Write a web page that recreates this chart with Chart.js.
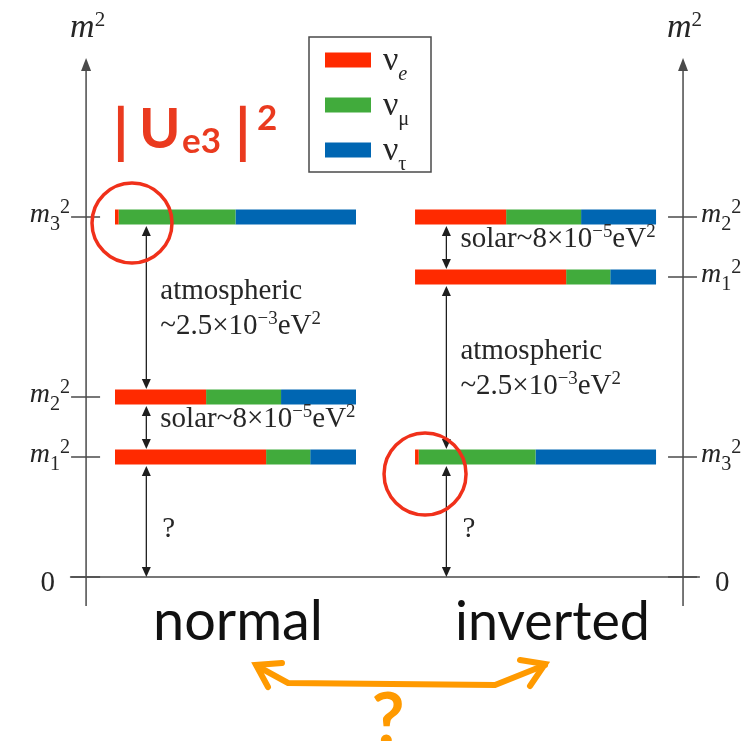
<!doctype html>
<html>
  <head>
    <meta charset="utf-8" />
    <title>Neutrino mass ordering</title>
    <script src="https://cdn.jsdelivr.net/npm/chart.js"></script>
    <style>
      html, body { margin: 0; padding: 0; background: #fff; }
      #wrap { width: 753px; height: 741px; }
    </style>
  </head>
  <body>
    <div id="wrap"><canvas id="chart" width="753" height="741"></canvas></div>
    <script>
      // flavour content |U|^2 of each mass state (m1, m2, m3)
      const flavours = ["ν", "ν", "ν"];
      const flavourSubs = ["e", "μ", "τ"];
      const flavourColors = ["#ff2a00", "#41ab3c", "#0066b2"];
      const shareE = [0.627, 0.378, 0.015];
      const shareMu = [0.183, 0.311, 0.485];
      const shareTau = [0.19, 0.311, 0.5];

      // schematic m^2 of m1, m2, m3 (diagram is not to scale)
      const orderings = ["normal", "inverted"];
      const normalLevels = [2, 3, 6];
      const invertedLevels = [5, 6, 2];
      const orderingStart = [0, 1.245];
      const massNames = ["1", "2", "3"];

      const atmText = ["atmospheric", "~2.5×10", "−3", "eV", "2"];
      const solarText = ["solar~8×10", "−5", "eV", "2"];

      const SERIF = '"Liberation Serif", "DejaVu Serif", serif';
      const SANS = 'Lato, "Open Sans", sans-serif';
      const INK = "#262626";

      const shares = [shareE, shareMu, shareTau];
      const levelSets = [normalLevels, invertedLevels];

      const datasets = [];
      orderings.forEach((ord, o) => {
        levelSets[o].forEach((lvl, i) => {
          let x0 = orderingStart[o];
          shares.forEach((s, f) => {
            datasets.push({
              label: flavours[f] + flavourSubs[f],
              data: [{ x: x0, y: lvl }, { x: x0 + s[i], y: lvl }],
              borderColor: flavourColors[f],
              borderWidth: 15,
              borderCapStyle: "butt",
              pointRadius: 0,
            });
            x0 += s[i];
          });
        });
      });

      // parts: [text, kind] kind = n | i | sup | sub | isub
      function drawRich(ctx, x, y, parts, size, family, align, color, small = 0.65) {
        const fontFor = (k) => {
          const s = k === "n" || k === "i" ? size : size * small;
          const it = k === "i" || k === "isub" ? "italic " : "";
          return it + s + "px " + family;
        };
        let total = 0;
        parts.forEach(([t, k]) => {
          ctx.font = fontFor(k);
          total += ctx.measureText(t).width;
        });
        let cx = align === "right" ? x - total : x;
        ctx.textAlign = "left";
        ctx.textBaseline = "alphabetic";
        ctx.fillStyle = color;
        parts.forEach(([t, k]) => {
          ctx.font = fontFor(k);
          let dy = 0;
          if (k === "sup") dy = -size * 0.33;
          if (k === "sub" || k === "isub") dy = size * 0.3;
          ctx.fillText(t, cx, y + dy);
          cx += ctx.measureText(t).width;
        });
      }

      function seg(ctx, x1, y1, x2, y2) {
        ctx.beginPath();
        ctx.moveTo(x1, y1);
        ctx.lineTo(x2, y2);
        ctx.stroke();
      }

      function head(ctx, x, tip, dir, hw, len) {
        ctx.beginPath();
        ctx.moveTo(x, tip);
        ctx.lineTo(x - hw, tip + dir * len);
        ctx.lineTo(x + hw, tip + dir * len);
        ctx.closePath();
        ctx.fill();
      }

      function fitText(ctx, text, family, weight, x0, x1, baseline, color) {
        ctx.font = weight + " 100px " + family;
        const w = ctx.measureText(text).width;
        const size = (100 * (x1 - x0)) / w;
        ctx.font = weight + " " + size + "px " + family;
        ctx.fillStyle = color;
        ctx.textAlign = "left";
        ctx.textBaseline = "alphabetic";
        ctx.fillText(text, x0, baseline);
      }

      const diagram = {
        id: "diagram",
        beforeDraw(chart) {
          const { ctx } = chart;
          ctx.save();
          ctx.fillStyle = "#ffffff";
          ctx.fillRect(0, 0, chart.width, chart.height);
          ctx.restore();
        },
        afterDatasetsDraw(chart) {
          const { ctx, scales: { x, y } } = chart;
          const X = (v) => x.getPixelForValue(v);
          const Y = (v) => y.getPixelForValue(v);
          ctx.save();

          // m^2 axes and zero line
          const axisPos = [-0.12, 2.357];
          const zeroY = Y(0);
          ctx.strokeStyle = "#4a4a4a";
          ctx.fillStyle = "#4a4a4a";
          ctx.lineWidth = 1.5;
          seg(ctx, X(-0.187), zeroY, X(2.427), zeroY);
          axisPos.forEach((a, side) => {
            const px = X(a);
            ctx.strokeStyle = "#4a4a4a";
            ctx.fillStyle = "#4a4a4a";
            ctx.lineWidth = 1.5;
            seg(ctx, px, zeroY + 29, px, Y(8.6) + 8);
            head(ctx, px, Y(8.65), 1, 5, 13);
            const lv = levelSets[side];
            lv.forEach((l) => seg(ctx, px - 15, Y(l), px + 14, Y(l)));
            seg(ctx, px - 15, zeroY, px + 14, zeroY);
            lv.forEach((l, i) => {
              const parts = [["m", "i"], [massNames[i], "sub"], ["2", "sup"]];
              if (side === 0) drawRich(ctx, px - 16, Y(l) + 5, parts, 28, SERIF, "right", INK, 0.72);
              else drawRich(ctx, px + 18, Y(l) + 5, parts, 28, SERIF, "left", INK, 0.72);
            });
            ctx.fillStyle = INK;
            ctx.font = "29px " + SERIF;
            ctx.textAlign = side === 0 ? "right" : "left";
            ctx.fillText("0", side === 0 ? px - 31 : px + 32, zeroY + 14);
            drawRich(ctx, px - 16, 37, [["m", "i"], ["2", "sup"]], 34, SERIF, "left", INK, 0.62);
          });

          // splittings between the levels
          orderings.forEach((ord, o) => {
            const lv = levelSets[o];
            const ax = X(orderingStart[o] + 0.13);
            const order = [0, 1, 2].sort((a, b) => lv[b] - lv[a]);
            const stops = order.map((i) => ({ m: i, v: lv[i] })).concat([{ m: -1, v: 0 }]);
            for (let k = 0; k < stops.length - 1; k++) {
              const hi = stops[k], lo = stops[k + 1];
              const t = Y(hi.v) + 9;
              const b = Y(lo.v) - (lo.m === -1 ? 0 : 8);
              ctx.strokeStyle = "#1e1e1e";
              ctx.fillStyle = "#1e1e1e";
              ctx.lineWidth = 1.3;
              seg(ctx, ax, t + 4, ax, b - 4);
              head(ctx, ax, t, 1, 4.5, 10);
              head(ctx, ax, b, -1, 4.5, 10);
              const mid = (Y(hi.v) + Y(lo.v)) / 2;
              if (lo.m === -1) {
                ctx.fillStyle = INK;
                ctx.font = "29px " + SERIF;
                ctx.textAlign = "left";
                ctx.fillText("?", ax + 16, mid + 20);
              } else if (hi.m === 2 || lo.m === 2) {
                ctx.fillStyle = INK;
                ctx.font = "29px " + SERIF;
                ctx.textAlign = "left";
                ctx.fillText(atmText[0], ax + 14, mid - 8);
                drawRich(ctx, ax + 14, mid + 27,
                  [[atmText[1], "n"], [atmText[2], "sup"], [atmText[3], "n"], [atmText[4], "sup"]],
                  29, SERIF, "left", INK);
              } else {
                drawRich(ctx, ax + 14, mid,
                  [[solarText[0], "n"], [solarText[1], "sup"], [solarText[2], "n"], [solarText[3], "sup"]],
                  29, SERIF, "left", INK);
              }
            }
          });

          // legend
          ctx.fillStyle = "#ffffff";
          ctx.fillRect(309, 37, 122, 135);
          ctx.strokeStyle = "#4a4a4a";
          ctx.lineWidth = 1.5;
          ctx.strokeRect(309, 37, 122, 135);
          flavours.forEach((f, i) => {
            const cy = 60 + i * 45;
            ctx.fillStyle = flavourColors[i];
            ctx.fillRect(325, cy - 7.5, 46, 15);
            drawRich(ctx, 383, cy + 10, [[f, "n"], [flavourSubs[i], i === 0 ? "isub" : "sub"]], 34, SERIF, "left", INK, 0.6);
          });

          // |Ue3|^2 annotation
          const red = "#ea3a1f";
          ctx.fillStyle = red;
          ctx.textAlign = "left";
          ctx.textBaseline = "alphabetic";
          ctx.font = "bold 100px " + SANS;
          const bm = ctx.measureText("|");
          const bh = bm.actualBoundingBoxAscent + bm.actualBoundingBoxDescent;
          const bs = (100 * 57) / bh;
          ctx.font = "bold " + bs + "px " + SANS;
          const bAsc = (bm.actualBoundingBoxAscent * bs) / 100;
          ctx.fillText("|", 113, 105 + bAsc);
          ctx.fillText("|", 235, 105 + bAsc);
          ctx.font = "bold 56px " + SANS;
          ctx.fillText("U", 139, 148);
          ctx.font = "bold 35px " + SANS;
          ctx.fillText("e3", 182, 153);
          ctx.fillText("2", 257, 130);

          // circles round the tiny νe part of m3
          ctx.strokeStyle = "#f0301a";
          ctx.lineWidth = 3.5;
          ctx.beginPath();
          ctx.arc(X(0) + 17, Y(normalLevels[2]) + 6, 40, 0, Math.PI * 2);
          ctx.stroke();
          ctx.beginPath();
          ctx.arc(X(orderingStart[1]) + 10, Y(invertedLevels[2]) + 17, 41, 0, Math.PI * 2);
          ctx.stroke();

          // ordering names
          fitText(ctx, orderings[0], SANS, "normal", 153, 323, 640, "#111");
          fitText(ctx, orderings[1], SANS, "normal", 455, 650, 640, "#111");

          // orange "which one?" arrow
          ctx.strokeStyle = "#ff9a00";
          ctx.fillStyle = "#ff9a00";
          ctx.lineWidth = 6;
          ctx.lineJoin = "miter";
          ctx.lineCap = "round";
          ctx.beginPath();
          ctx.moveTo(282, 663);
          ctx.lineTo(256, 665);
          ctx.lineTo(268, 687);
          ctx.stroke();
          ctx.beginPath();
          ctx.moveTo(257, 666);
          ctx.lineTo(288, 683);
          ctx.lineTo(495, 685);
          ctx.lineTo(545, 665);
          ctx.stroke();
          ctx.beginPath();
          ctx.moveTo(520, 660);
          ctx.lineTo(545, 664);
          ctx.lineTo(530, 686);
          ctx.stroke();
          ctx.font = "bold 72px " + SANS;
          ctx.textAlign = "center";
          ctx.fillText("?", 388, 745);

          ctx.restore();
        },
      };

      new Chart(document.getElementById("chart"), {
        type: "line",
        data: { datasets },
        options: {
          responsive: false,
          animation: false,
          devicePixelRatio: 1,
          layout: { padding: 0, autoPadding: false },
          plugins: { legend: { display: false }, tooltip: { enabled: false } },
          scales: {
            x: { type: "linear", min: -115 / 241, max: 638 / 241, display: false },
            y: { type: "linear", min: -164 / 60, max: 577 / 60, display: false },
          },
        },
        plugins: [diagram],
      });
    </script>
  </body>
</html>
